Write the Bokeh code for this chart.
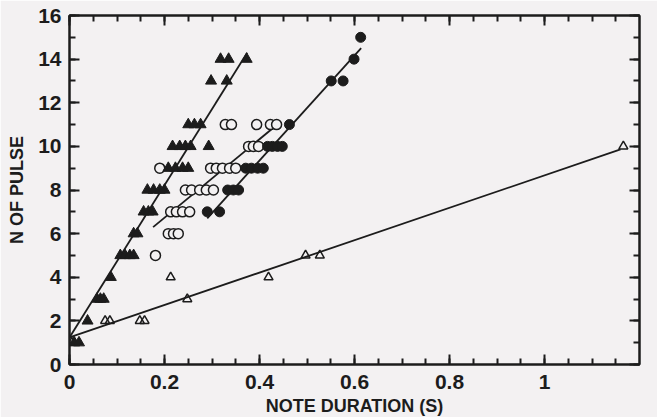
from bokeh.plotting import figure
from bokeh.models import Range1d, LinearAxis, SingleIntervalTicker, NumeralTickFormatter
from bokeh.embed import file_html
from bokeh.resources import INLINE

# ---- data ----
# filled triangles
tri_f_x = [0.010, 0.020, 0.038, 0.058, 0.065, 0.072, 0.087,
           0.107, 0.117, 0.127, 0.135, 0.135, 0.143,
           0.156, 0.166, 0.175, 0.164, 0.177, 0.190, 0.200,
           0.208, 0.223, 0.238, 0.250, 0.217, 0.232, 0.244, 0.255, 0.293,
           0.250, 0.263, 0.276, 0.298, 0.331, 0.318, 0.335, 0.373]
tri_f_y = [1, 1, 2, 3, 3, 3, 4,
           5, 5, 5, 5, 6, 6,
           7, 7, 7, 8, 8, 8, 8,
           9, 9, 9, 9, 10, 10, 10, 10, 10,
           11, 11, 11, 13, 13, 14, 14, 14]

# open circles
circ_o_x = [0.181, 0.208, 0.219, 0.229,
            0.213, 0.225, 0.238, 0.253,
            0.244, 0.257, 0.274, 0.288, 0.303,
            0.190, 0.297, 0.309, 0.322, 0.337, 0.350,
            0.377, 0.387, 0.398,
            0.328, 0.341, 0.394, 0.423, 0.436]
circ_o_y = [5, 6, 6, 6,
            7, 7, 7, 7,
            8, 8, 8, 8, 8,
            9, 9, 9, 9, 9, 9,
            10, 10, 10,
            11, 11, 11, 11, 11]

# filled circles
circ_f_x = [0.290, 0.316, 0.333, 0.345, 0.356,
            0.371, 0.383, 0.396, 0.408,
            0.417, 0.427, 0.438, 0.448,
            0.463, 0.551, 0.576, 0.599, 0.613]
circ_f_y = [7, 7, 8, 8, 8,
            9, 9, 9, 9,
            10, 10, 10, 10,
            11, 13, 13, 14, 15]

# open triangles
tri_o_x = [0.005, 0.075, 0.085, 0.148, 0.158, 0.248, 0.213, 0.419, 0.497, 0.527, 1.166]
tri_o_y = [1, 2, 2, 2, 2, 3, 4, 4, 5, 5, 10]

# regression lines: intercept, slope, x start, x end
fit_names = ["tri_f", "circ_o", "circ_f", "tri_o"]
fit_intercept = [1.24, 3.13, -0.29, 1.24]
fit_slope = [34.9, 18.0, 24.1, 7.43]
fit_x0 = [0.0, 0.176, 0.290, 0.0]
fit_x1 = [0.374, 0.440, 0.614, 1.160]

x_axis_label = "NOTE DURATION (S)"
y_axis_label = "N OF PULSE"

INK = "#1c1c1c"
BG = "#f3f1f2"
FONT = "Liberation Sans"

p = figure(frame_width=570, frame_height=349,
           min_border_left=69, min_border_right=18, min_border_top=15, min_border_bottom=53,
           x_range=Range1d(0, 1.2), y_range=Range1d(0, 16),
           output_backend="svg", toolbar_location=None,
           background_fill_color=BG, border_fill_color=BG)
p.grid.visible = False
p.outline_line_color = INK
p.outline_line_width = 2

xt = SingleIntervalTicker(interval=0.2, num_minor_ticks=4)
yt = SingleIntervalTicker(interval=2, num_minor_ticks=2)


def style_axis(ax, ticker, show_labels):
    ax.ticker = ticker
    ax.axis_line_color = INK
    ax.axis_line_width = 2
    ax.major_tick_in = 10
    ax.major_tick_out = 0
    ax.minor_tick_in = 6
    ax.minor_tick_out = 0
    ax.major_tick_line_color = INK
    ax.minor_tick_line_color = INK
    ax.major_tick_line_width = 2
    ax.minor_tick_line_width = 2
    if show_labels:
        ax.major_label_text_font = FONT
        ax.major_label_text_font_style = "bold"
        ax.major_label_text_font_size = "21px"
        ax.major_label_text_color = INK
        ax.axis_label_text_font = FONT
        ax.axis_label_text_font_style = "bold"
        ax.axis_label_text_font_size = "18px"
        ax.axis_label_text_color = INK
    else:
        ax.major_label_text_font_size = "0px"
        ax.major_label_text_alpha = 0


xa = p.xaxis[0]
style_axis(xa, xt, True)
xa.formatter = NumeralTickFormatter(format="0.[0]")
xa.major_label_standoff = 10
xa.axis_label = x_axis_label
xa.axis_label_standoff = 4

ya = p.yaxis[0]
style_axis(ya, yt, True)
ya.major_label_standoff = 8
ya.axis_label = y_axis_label
ya.axis_label_standoff = 8

top = LinearAxis()
style_axis(top, SingleIntervalTicker(interval=0.2, num_minor_ticks=4), False)
p.add_layout(top, "above")
right = LinearAxis()
style_axis(right, SingleIntervalTicker(interval=2, num_minor_ticks=2), False)
p.add_layout(right, "right")

# regression lines
for b, m, x0, x1 in zip(fit_intercept, fit_slope, fit_x0, fit_x1):
    p.line([x0, x1], [b + m * x0, b + m * x1], line_color=INK, line_width=1.8)

p.scatter(tri_o_x, tri_o_y, marker="triangle", size=9, fill_color=None,
          line_color=INK, line_width=1.5)
p.scatter(circ_o_x, circ_o_y, marker="circle", size=10, fill_color=BG,
          line_color=INK, line_width=1.5)
p.scatter(circ_f_x, circ_f_y, marker="circle", size=10, fill_color=INK,
          line_color=INK, line_width=1)
p.scatter(tri_f_x, tri_f_y, marker="triangle", size=11, fill_color=INK,
          line_color=INK, line_width=1)

open("out.html", "w").write(file_html(p, INLINE))
